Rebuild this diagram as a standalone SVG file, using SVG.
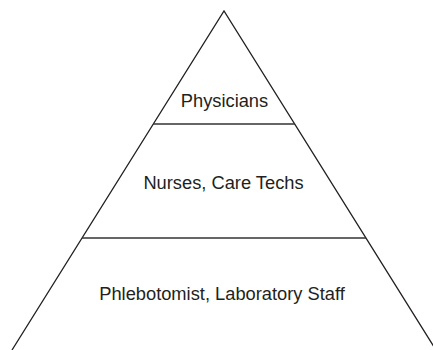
<svg xmlns="http://www.w3.org/2000/svg" width="433" height="350" viewBox="0 0 433 350">
  <style>
    .edge { stroke: #231f20; stroke-width: 1.3; fill: none; }
    .tier { stroke: #333; stroke-width: 1.3; fill: none; }
    .label { font-family: "Liberation Sans", Arial, sans-serif; font-size: 18.3px; fill: #231f20; text-anchor: middle; }
  </style>
  <rect width="433" height="350" fill="#fff"/>
  <g id="connectors">
    <path class="edge" d="M12,350 L224,11 L436,350"/>
    <line class="tier" x1="153" y1="124" x2="295" y2="124"/>
    <line class="tier" x1="82" y1="238" x2="366" y2="238"/>
  </g>
  <g id="tier-top">
    <text class="label" x="224.5" y="107">Physicians</text>
  </g>
  <g id="tier-middle">
    <text class="label" x="223.5" y="189">Nurses, Care Techs</text>
  </g>
  <g id="tier-base">
    <text class="label" x="222" y="300">Phlebotomist, Laboratory Staff</text>
  </g>
</svg>
